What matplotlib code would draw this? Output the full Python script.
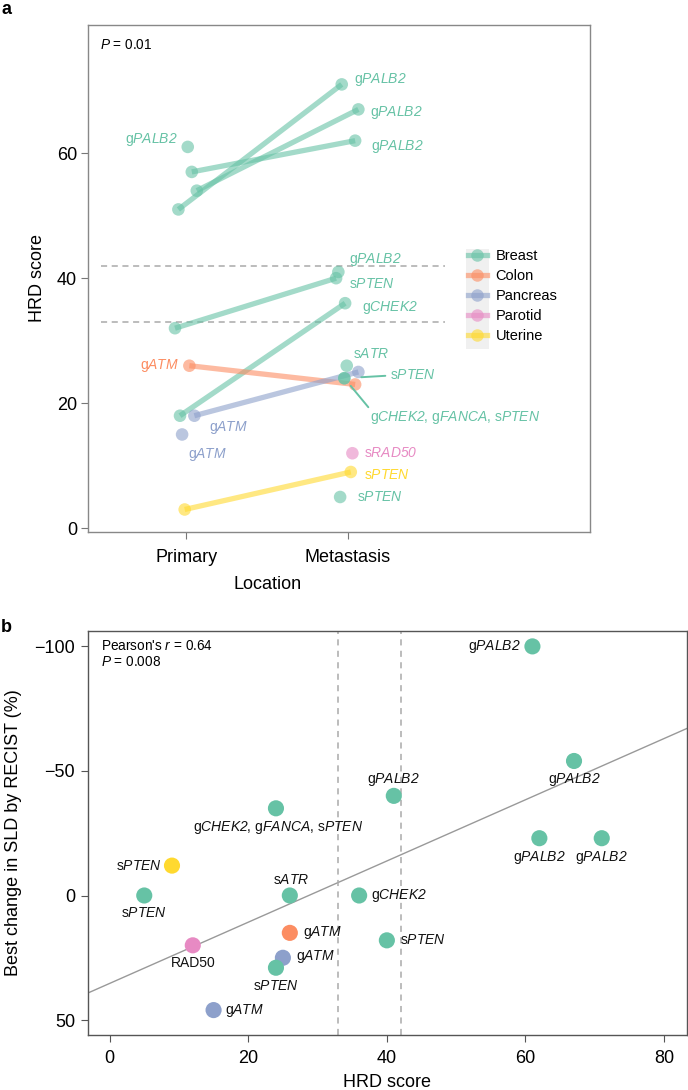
import matplotlib
matplotlib.use("Agg")
import matplotlib.pyplot as plt
from matplotlib.lines import Line2D
from matplotlib.patches import Rectangle
from matplotlib import font_manager

# ---------------- data ----------------
tissues = ["Breast", "Colon", "Pancreas", "Parotid", "Uterine"]
tissue_colors = ["#66C2A5", "#FC8D62", "#8DA0CB", "#E78AC3", "#FFD92F"]

# Panel a: primary samples
prim_tissue = ["Breast", "Breast", "Breast", "Breast", "Breast", "Breast", "Colon", "Pancreas", "Pancreas", "Uterine"]
prim_hrd = [51, 54, 57, 61, 32, 18, 26, 18, 15, 3]
prim_label = ["", "", "", "gPALB2", "", "", "gATM", "gATM", "gATM", ""]
prim_jitter = [-0.050, 0.064, 0.033, 0.008, -0.071, -0.040, 0.018, 0.049, -0.027, -0.011]

# Panel a: metastasis samples
met_tissue = ["Breast", "Breast", "Breast", "Breast", "Breast", "Breast", "Breast", "Breast", "Breast", "Breast",
              "Colon", "Pancreas", "Parotid", "Uterine"]
met_hrd = [71, 67, 62, 41, 40, 36, 26, 24, 24, 5, 23, 25, 12, 9]
met_label = ["gPALB2", "gPALB2", "gPALB2", "gPALB2", "sPTEN", "gCHEK2", "sATR", "sPTEN",
             "gCHEK2, gFANCA, sPTEN", "sPTEN", "", "", "sRAD50", "sPTEN"]
met_jitter = [-0.038, 0.065, 0.045, -0.059, -0.073, -0.017, -0.007, -0.022, -0.022, -0.048,
              0.045, 0.065, 0.028, 0.018]

# paired samples (primary index, metastasis index)
pairs = [(0, 0), (1, 1), (2, 2), (4, 4), (5, 5), (6, 10), (7, 11), (9, 13)]

hrd_thresholds = [33, 42]

# Panel b
b_hrd = [61, 67, 41, 24, 62, 71, 9, 5, 26, 36, 26, 40, 12, 25, 24, 15]
b_change = [-100, -54, -40, -35, -23, -23, -12, 0, 0, 0, 15, 18, 20, 25, 29, 46]
b_tissue = ["Breast", "Breast", "Breast", "Breast", "Breast", "Breast", "Uterine", "Breast", "Breast", "Breast",
            "Colon", "Breast", "Parotid", "Pancreas", "Breast", "Pancreas"]
b_label = ["gPALB2", "gPALB2", "gPALB2", "gCHEK2, gFANCA, sPTEN", "gPALB2", "gPALB2", "sPTEN", "sPTEN",
           "sATR", "gCHEK2", "gATM", "sPTEN", "RAD50", "gATM", "sPTEN", "gATM"]
fit_intercept = 35.3
fit_slope = -1.229

# ---------------- style ----------------
names = {f.name for f in font_manager.fontManager.ttflist}
NARROW = "Liberation Sans Narrow" if "Liberation Sans Narrow" in names else "Liberation Sans"
plt.rcParams["font.family"] = ["Liberation Sans", "DejaVu Sans"]
plt.rcParams["mathtext.fontset"] = "custom"
# everything inside $...$ is italic (gene names, statistics symbols)
plt.rcParams["mathtext.rm"] = "Liberation Sans:italic"
plt.rcParams["mathtext.it"] = "Liberation Sans:italic"
plt.rcParams["mathtext.bf"] = "Liberation Sans:bold"
plt.rcParams["axes.unicode_minus"] = True

cmap = dict(zip(tissues, tissue_colors))


def fmt(lbl):
    parts = []
    for tok in lbl.split(", "):
        if len(tok) > 1 and tok[0] in "gs" and tok[1:2].isupper():
            parts.append(tok[0] + r"$\mathit{" + tok[1:] + "}$")
        else:
            parts.append(tok)
    return ", ".join(parts)


W, H = 688, 1090
fig = plt.figure(figsize=(W / 100, H / 100), dpi=100)


def px2fig(x0, y0, x1, y1):
    return [x0 / W, 1 - y1 / H, (x1 - x0) / W, (y1 - y0) / H]


PX = 0.72  # points per pixel

# ================= Panel a =================
ax = fig.add_axes(px2fig(88, 25, 590, 532))
ALPHA = 0.6
LW = 3.8
MS = 82

for pi, mi in pairs:
    t = prim_tissue[pi]
    ax.plot([1 + prim_jitter[pi], 2 + met_jitter[mi]], [prim_hrd[pi], met_hrd[mi]],
            color=cmap[t], alpha=ALPHA, lw=LW, solid_capstyle="butt", zorder=2)

for i in range(len(prim_hrd)):
    ax.scatter(1 + prim_jitter[i], prim_hrd[i], s=MS, color=cmap[prim_tissue[i]], alpha=ALPHA,
               edgecolors="none", zorder=3)
for i in range(len(met_hrd)):
    ax.scatter(2 + met_jitter[i], met_hrd[i], s=MS, color=cmap[met_tissue[i]], alpha=ALPHA,
               edgecolors="none", zorder=3)

# label offsets (pixels), (dx, dy) with dy positive downward, ha
prim_off = {3: (-10, -7, "right"), 6: (-10, 0, "right"), 7: (15, 12, "left"), 8: (6, 20, "left")}
met_off = {0: (12, -5, "left"), 1: (12, 3, "left"), 2: (16, 6, "left"), 3: (11, -12, "left"),
           4: (13, 6, "left"), 5: (17, 4, "left"), 6: (6, -12, "left"), 7: (46, -3, "left"),
           8: (26, 39, "left"), 9: (17, 0, "left"), 12: (12, 0, "left"), 13: (13, 3, "left")}
# leader lines: (end dx, end dy, gap from point) in pixels
leaders = {7: (41, -2.4, 17), 8: (24, 29, 10)}

for i, (dx, dy, ha) in prim_off.items():
    ax.annotate(fmt(prim_label[i]), (1 + prim_jitter[i], prim_hrd[i]), xytext=(dx * PX, -dy * PX),
                textcoords="offset points", ha=ha, va="center", fontsize=10,
                color=cmap[prim_tissue[i]], zorder=4)
for i, (dx, dy, ha) in met_off.items():
    c = cmap[met_tissue[i]]
    ax.annotate(fmt(met_label[i]), (2 + met_jitter[i], met_hrd[i]), xytext=(dx * PX, -dy * PX),
                textcoords="offset points", ha=ha, va="center", fontsize=10, color=c, zorder=4)
    if i in leaders:
        x1, y1, gap = leaders[i]
        ax.annotate("", (2 + met_jitter[i], met_hrd[i]), xytext=(x1 * PX, -y1 * PX),
                    textcoords="offset points",
                    arrowprops=dict(arrowstyle="-", color=c, lw=1.4,
                                    shrinkA=0, shrinkB=gap * PX),
                    zorder=4)

for yv in hrd_thresholds:
    ax.plot([0.47, 2.6], [yv, yv], color="#AAAAAA", lw=1.1, ls=(0, (4, 3)), zorder=1)

ax.set_xlim(0.39, 3.5)
ax.set_ylim(-0.6, 80.5)
ax.set_xticks([1, 2])
ax.set_xticklabels(["Primary", "Metastasis"], fontfamily=NARROW)
ax.set_yticks([0, 20, 40, 60])
ax.set_yticklabels(["0", "20", "40", "60"], fontfamily=NARROW)
ax.tick_params(labelsize=13, length=5, width=0.8, color="#777777", pad=3)
ax.tick_params(axis="x", pad=7)
for s in ax.spines.values():
    s.set_color("#888888")
    s.set_linewidth(1.0)
ax.set_ylabel("HRD score", fontsize=13, labelpad=8)
ax.set_xlabel("Location", fontsize=13, fontfamily=NARROW)
ax.xaxis.set_label_coords((186.4 + 161.4 * 0.5 - 88) / 502, -0.086)
ax.text(0.024, 0.961, r"$P$ = 0.01", transform=ax.transAxes, fontsize=9.8, va="center", ha="left")

# legend
handles = [Line2D([0], [0], color=c, lw=LW, marker="o", markersize=9, alpha=ALPHA,
                  markeredgewidth=0) for c in tissue_colors]
leg = ax.legend(handles, tissues, loc="upper left", bbox_to_anchor=(468 / W, 1 - 249 / H),
                bbox_transform=fig.transFigure, frameon=False, fontsize=10.5, handlelength=1.3,
                handletextpad=0.6, labelspacing=0.42, borderpad=0, borderaxespad=0)
fig.patches.append(Rectangle((466 / W, 1 - 349 / H), 23 / W, 100 / H, transform=fig.transFigure,
                             facecolor="#F0F0F0", edgecolor="none", zorder=0))
ax.set_zorder(1)
ax.patch.set_alpha(0)

# ================= Panel b =================
bx = fig.add_axes(px2fig(87.7, 630.7, 687, 1035))
bx.axline((0, fit_intercept), slope=fit_slope, color="#999999", lw=1.0, zorder=1)
for xv in hrd_thresholds:
    bx.axvline(xv, color="#AAAAAA", lw=1.1, ls=(0, (4, 3.5)), zorder=1)
bx.scatter(b_hrd, b_change, s=135, c=[cmap[t] for t in b_tissue], edgecolors="none", zorder=3)

# label offsets (pixels): dx, dy (down positive), ha
b_off = [(-12, 0, "right"), (0, 19, "center"), (0, -16, "center"), (2, 19, "center"),
         (0, 19, "center"), (0, 19, "center"), (-10, 0, "right"), (0, 17, "center"),
         (1, -16, "center"), (12, 0, "left"), (13, 0, "left"), (13, 0, "left"),
         (0, 18, "center"), (13, -1, "left"), (0, 18, "center"), (11, 0, "left")]
for i, (dx, dy, ha) in enumerate(b_off):
    bx.annotate(fmt(b_label[i]), (b_hrd[i], b_change[i]), xytext=(dx * PX, -dy * PX),
                textcoords="offset points", ha=ha, va="center", fontsize=10, color="#111111", zorder=4)

bx.set_xlim(-3.16, 83.3)
bx.set_ylim(56, -106.3)
bx.set_xticks([0, 20, 40, 60, 80])
bx.set_xticklabels(["0", "20", "40", "60", "80"], fontfamily=NARROW)
bx.set_yticks([-100, -50, 0, 50])
bx.set_yticklabels(["\u2212100", "\u221250", "0", "50"], fontfamily=NARROW)
bx.tick_params(labelsize=13, length=5, width=0.8, color="#555555", pad=4)
bx.tick_params(axis="x", pad=6)
for s in bx.spines.values():
    s.set_color("#555555")
    s.set_linewidth(1.0)
bx.set_xlabel("HRD score", fontsize=13, fontfamily=NARROW, labelpad=5)
bx.set_ylabel("Best change in SLD by RECIST (%)", fontsize=13, labelpad=9)
bx.text(0.022, 0.962, r"Pearson's $r$ = 0.64", transform=bx.transAxes, fontsize=9.8, va="center")
bx.text(0.022, 0.922, r"$P$ = 0.008", transform=bx.transAxes, fontsize=9.8, va="center")

# panel letters
fig.text(1 / W, 1 - 9 / H, "a", fontsize=13, fontweight="bold", va="center", ha="left")
fig.text(1 / W, 1 - 628 / H, "b", fontsize=13, fontweight="bold", va="center", ha="left")

fig.savefig("out.png", dpi=100)
